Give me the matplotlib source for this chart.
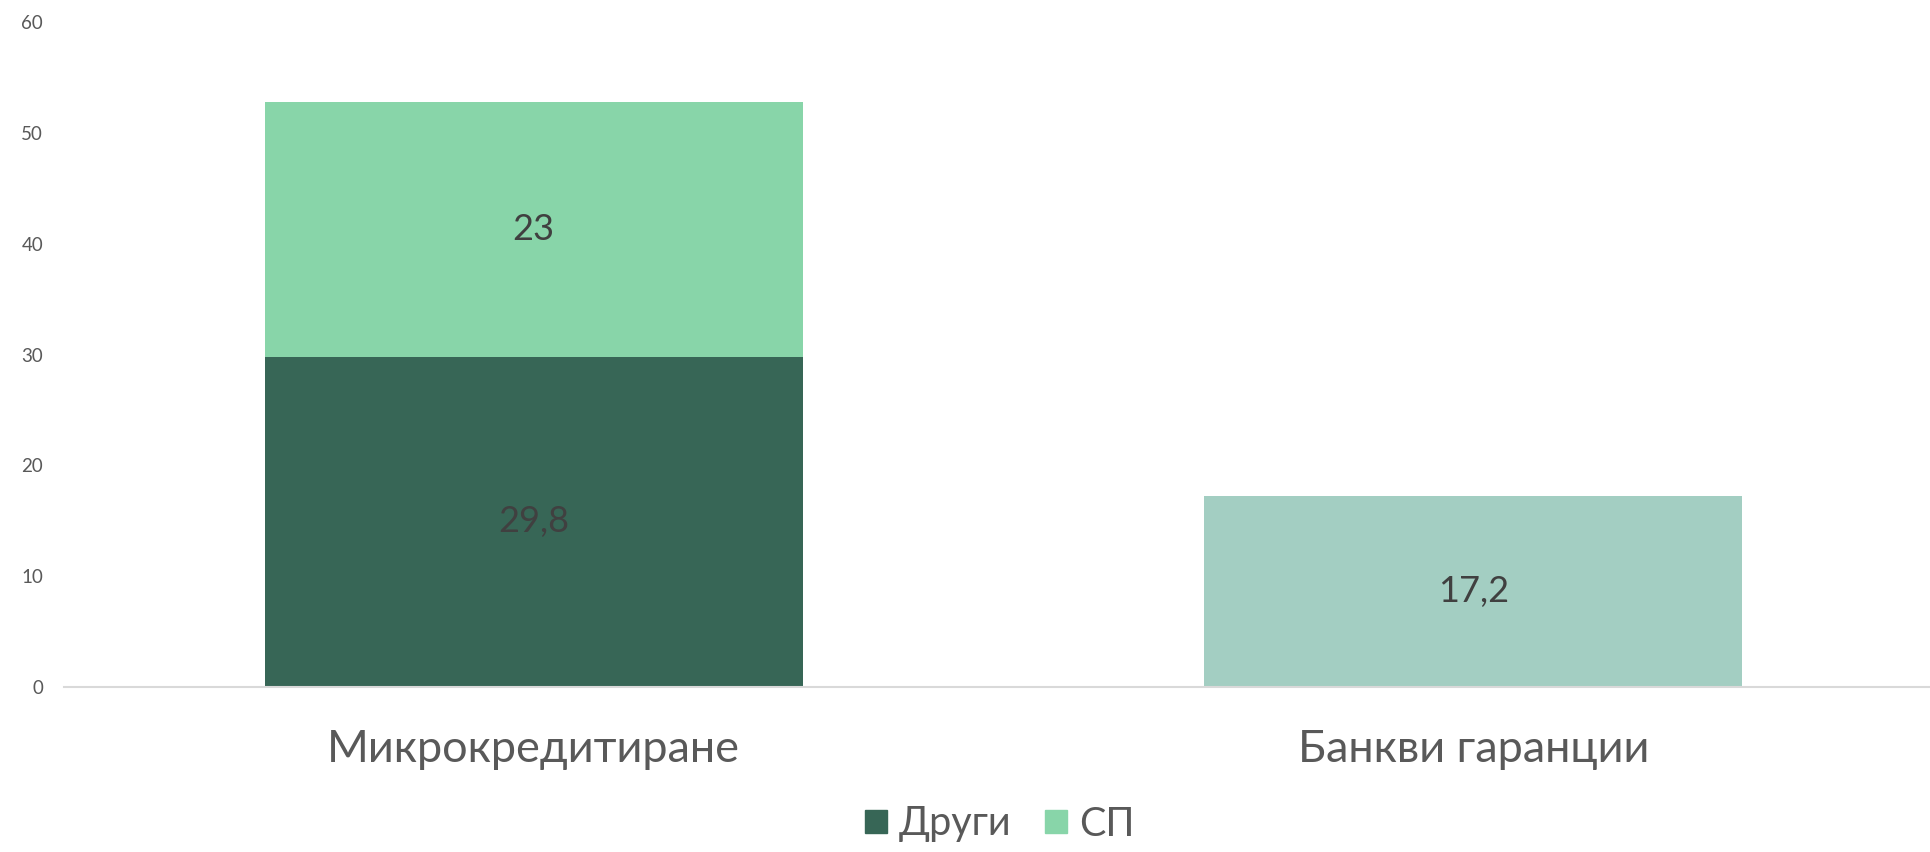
import matplotlib.pyplot as plt
from matplotlib.patches import Patch

plt.rcParams['font.family'] = ['Lato', 'DejaVu Sans']

categories = ['Микрокредитиране', 'Банкви гаранции']
drugi = [29.8, 17.2]
sp = [23, 0]
drugi_labels = ['29,8', '17,2']
sp_labels = ['23', '']
yticks = [0, 10, 20, 30, 40, 50, 60]

dark = '#376656'
light = '#88D5A9'
bank = '#A3CEC2'
txt = '#404040'
grey = '#595959'

fig = plt.figure(figsize=(19.31, 8.52), dpi=100)
ax = fig.add_axes([64 / 1931, 165 / 852, 1867 / 1931, 665 / 852])

x = range(len(categories))
bars1 = ax.bar(x, drugi, width=0.573, color=[dark, bank])
bars2 = ax.bar(x, sp, width=0.573, bottom=drugi, color=light)

for b, lab in zip(bars1, drugi_labels):
    ax.text(b.get_x() + b.get_width() / 2, b.get_y() + b.get_height() / 2, lab,
            ha='center', va='center', fontsize=26, color=txt)
for b, lab in zip(bars2, sp_labels):
    if lab:
        ax.text(b.get_x() + b.get_width() / 2, b.get_y() + b.get_height() / 2, lab,
                ha='center', va='center', fontsize=26, color=txt)

ax.set_xlim(-0.5, 1.5 - 12 / 939.6)
ax.set_ylim(0, 60)
ax.set_yticks(yticks)
ax.set_xticks(list(x))
ax.set_xticklabels(categories, fontsize=32.5, color=grey)
ax.tick_params(axis='x', length=0, pad=30)
ax.tick_params(axis='y', length=0, pad=15, labelsize=13.5, labelcolor=grey)
for s in ['top', 'right', 'left']:
    ax.spines[s].set_visible(False)
ax.spines['bottom'].set_color('#d9d9d9')
ax.spines['bottom'].set_linewidth(1.5)

handles = [Patch(color=dark), Patch(color=light)]
fig.legend(handles, ['Други', 'СП'], loc='center', bbox_to_anchor=(1000 / 1931, 1 - 824 / 852),
           ncol=2, frameon=False, fontsize=28.5, labelcolor=grey,
           handlelength=0.55, handleheight=0.55, handletextpad=0.3, columnspacing=0.85)

fig.savefig('out.png', dpi=100)
